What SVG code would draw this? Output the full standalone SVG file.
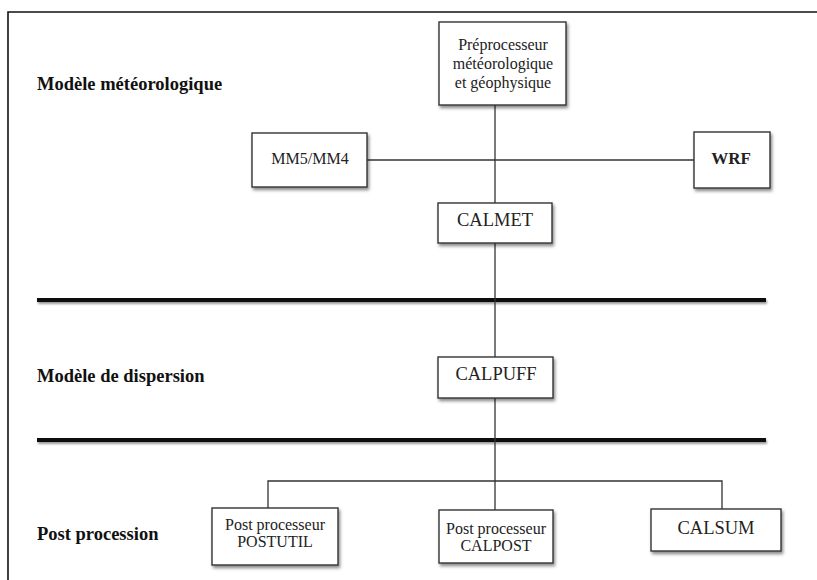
<svg xmlns="http://www.w3.org/2000/svg" width="817" height="580" viewBox="0 0 817 580">
<defs>
<filter id="sh" x="-10%" y="-10%" width="130%" height="140%">
<feDropShadow dx="1.5" dy="2.5" stdDeviation="1.5" flood-color="#000" flood-opacity="0.45"/>
</filter>
<filter id="sh2" filterUnits="userSpaceOnUse" x="0" y="0" width="817" height="580">
<feDropShadow dx="1" dy="2" stdDeviation="1.2" flood-color="#000" flood-opacity="0.4"/>
</filter>
</defs>
<style>
.box{fill:#fff;stroke:#333;stroke-width:1.4;filter:url(#sh)}
.t{font-family:"Liberation Serif","Times New Roman",serif;fill:#222;text-anchor:middle}
.lab{font-family:"Liberation Serif","Times New Roman",serif;fill:#111;font-weight:bold;font-size:18.5px}
.c{stroke:#333;stroke-width:1.3;fill:none}
.sep{fill:#111;filter:url(#sh2)}
</style>
<rect width="817" height="580" fill="#fff"/>
<path d="M8,580 V12 H817" fill="none" stroke="#111" stroke-width="1.6"/>
<g id="separators">
<rect class="sep" x="37" y="298" width="729" height="4"/>
<rect class="sep" x="37" y="438" width="729" height="4"/>
</g>
<g id="labels">
<text class="lab" x="37" y="90">Modèle météorologique</text>
<text class="lab" x="37" y="382">Modèle de dispersion</text>
<text class="lab" x="37" y="540">Post procession</text>
</g>
<g id="connectors">
<line class="c" x1="495" y1="105" x2="495" y2="203"/>
<line class="c" x1="367" y1="160" x2="694" y2="160"/>
<line class="c" x1="495" y1="243" x2="495" y2="357"/>
<line class="c" x1="495" y1="398" x2="495" y2="510"/>
<polyline class="c" points="268,508 268,481 722,481 722,509"/>
</g>
<g id="preprocesseur">
<rect class="box" x="439" y="22" width="127" height="83"/>
<text class="t" font-size="16" x="503" y="50">Préprocesseur</text>
<text class="t" font-size="16" x="503" y="69">météorologique</text>
<text class="t" font-size="16" x="503" y="88">et géophysique</text>
</g>
<g id="mm5">
<rect class="box" x="252" y="133" width="115" height="54"/>
<text class="t" font-size="16" x="310" y="164">MM5/MM4</text>
</g>
<g id="wrf">
<rect class="box" x="694" y="132" width="76" height="56"/>
<text class="t" font-size="17" font-weight="bold" x="731" y="164">WRF</text>
</g>
<g id="calmet">
<rect class="box" x="438" y="203" width="114" height="40"/>
<text class="t" font-size="18.5" x="495" y="226">CALMET</text>
</g>
<g id="calpuff">
<rect class="box" x="438" y="357" width="115" height="41"/>
<text class="t" font-size="18.5" x="496" y="380">CALPUFF</text>
</g>
<g id="postutil">
<rect class="box" x="212" y="508" width="126" height="57"/>
<text class="t" font-size="16" x="275" y="530">Post processeur</text>
<text class="t" font-size="16" x="275" y="547">POSTUTIL</text>
</g>
<g id="calpost">
<rect class="box" x="439" y="510" width="114" height="53"/>
<text class="t" font-size="16" x="496" y="534">Post processeur</text>
<text class="t" font-size="16" x="496" y="551">CALPOST</text>
</g>
<g id="calsum">
<rect class="box" x="651" y="509" width="130" height="42"/>
<text class="t" font-size="18.5" x="716" y="534">CALSUM</text>
</g>
</svg>
